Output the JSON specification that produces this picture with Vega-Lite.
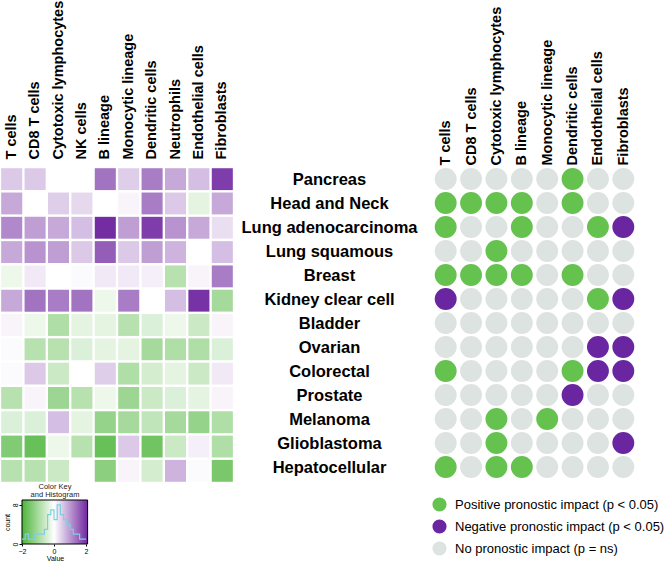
{
  "$schema": "https://vega.github.io/schema/vega-lite/v6.json",
  "padding": {"left": 0, "top": 0, "right": 0, "bottom": 0},
  "background": "white",
  "config": {"view": {"stroke": null}, "font": "Liberation Sans"},
  "datasets": {
    "heat": [
      {"t":"Pancreas","c":"T cells","v":0.5},{"t":"Pancreas","c":"CD8 T cells","v":0.5},{"t":"Pancreas","c":"Cytotoxic lymphocytes","v":0},{"t":"Pancreas","c":"NK cells","v":0},{"t":"Pancreas","c":"B lineage","v":1.3},{"t":"Pancreas","c":"Monocytic lineage","v":0.45},{"t":"Pancreas","c":"Dendritic cells","v":1.2},{"t":"Pancreas","c":"Neutrophils","v":0.8},{"t":"Pancreas","c":"Endothelial cells","v":0.6},{"t":"Pancreas","c":"Fibroblasts","v":1.8},
      {"t":"Head and Neck","c":"T cells","v":0.8},{"t":"Head and Neck","c":"CD8 T cells","v":0},{"t":"Head and Neck","c":"Cytotoxic lymphocytes","v":0.45},{"t":"Head and Neck","c":"NK cells","v":0.35},{"t":"Head and Neck","c":"B lineage","v":0},{"t":"Head and Neck","c":"Monocytic lineage","v":0.1},{"t":"Head and Neck","c":"Dendritic cells","v":1.2},{"t":"Head and Neck","c":"Neutrophils","v":0.5},{"t":"Head and Neck","c":"Endothelial cells","v":-0.3},{"t":"Head and Neck","c":"Fibroblasts","v":0.8},
      {"t":"Lung adenocarcinoma","c":"T cells","v":1.1},{"t":"Lung adenocarcinoma","c":"CD8 T cells","v":0.9},{"t":"Lung adenocarcinoma","c":"Cytotoxic lymphocytes","v":0.8},{"t":"Lung adenocarcinoma","c":"NK cells","v":0.6},{"t":"Lung adenocarcinoma","c":"B lineage","v":1.95},{"t":"Lung adenocarcinoma","c":"Monocytic lineage","v":0.9},{"t":"Lung adenocarcinoma","c":"Dendritic cells","v":1.8},{"t":"Lung adenocarcinoma","c":"Neutrophils","v":1.0},{"t":"Lung adenocarcinoma","c":"Endothelial cells","v":0.8},{"t":"Lung adenocarcinoma","c":"Fibroblasts","v":0.3},
      {"t":"Lung squamous","c":"T cells","v":0.8},{"t":"Lung squamous","c":"CD8 T cells","v":1.0},{"t":"Lung squamous","c":"Cytotoxic lymphocytes","v":0.9},{"t":"Lung squamous","c":"NK cells","v":0.5},{"t":"Lung squamous","c":"B lineage","v":1.5},{"t":"Lung squamous","c":"Monocytic lineage","v":0.5},{"t":"Lung squamous","c":"Dendritic cells","v":0.9},{"t":"Lung squamous","c":"Neutrophils","v":0.7},{"t":"Lung squamous","c":"Endothelial cells","v":0},{"t":"Lung squamous","c":"Fibroblasts","v":0.6},
      {"t":"Breast","c":"T cells","v":-0.2},{"t":"Breast","c":"CD8 T cells","v":0.2},{"t":"Breast","c":"Cytotoxic lymphocytes","v":0},{"t":"Breast","c":"NK cells","v":0.05},{"t":"Breast","c":"B lineage","v":0.2},{"t":"Breast","c":"Monocytic lineage","v":0.2},{"t":"Breast","c":"Dendritic cells","v":0.15},{"t":"Breast","c":"Neutrophils","v":-0.8},{"t":"Breast","c":"Endothelial cells","v":0.1},{"t":"Breast","c":"Fibroblasts","v":1.2},
      {"t":"Kidney clear cell","c":"T cells","v":0.8},{"t":"Kidney clear cell","c":"CD8 T cells","v":1.3},{"t":"Kidney clear cell","c":"Cytotoxic lymphocytes","v":1.2},{"t":"Kidney clear cell","c":"NK cells","v":1.3},{"t":"Kidney clear cell","c":"B lineage","v":-0.2},{"t":"Kidney clear cell","c":"Monocytic lineage","v":1.2},{"t":"Kidney clear cell","c":"Dendritic cells","v":0},{"t":"Kidney clear cell","c":"Neutrophils","v":0.6},{"t":"Kidney clear cell","c":"Endothelial cells","v":1.9},{"t":"Kidney clear cell","c":"Fibroblasts","v":-1.0},
      {"t":"Bladder","c":"T cells","v":0.1},{"t":"Bladder","c":"CD8 T cells","v":-0.2},{"t":"Bladder","c":"Cytotoxic lymphocytes","v":-0.9},{"t":"Bladder","c":"NK cells","v":-0.3},{"t":"Bladder","c":"B lineage","v":-0.3},{"t":"Bladder","c":"Monocytic lineage","v":-0.8},{"t":"Bladder","c":"Dendritic cells","v":-0.4},{"t":"Bladder","c":"Neutrophils","v":-0.2},{"t":"Bladder","c":"Endothelial cells","v":-0.6},{"t":"Bladder","c":"Fibroblasts","v":0.1},
      {"t":"Ovarian","c":"T cells","v":0.05},{"t":"Ovarian","c":"CD8 T cells","v":-0.8},{"t":"Ovarian","c":"Cytotoxic lymphocytes","v":-0.8},{"t":"Ovarian","c":"NK cells","v":-0.4},{"t":"Ovarian","c":"B lineage","v":-0.3},{"t":"Ovarian","c":"Monocytic lineage","v":-0.3},{"t":"Ovarian","c":"Dendritic cells","v":-1.0},{"t":"Ovarian","c":"Neutrophils","v":-0.9},{"t":"Ovarian","c":"Endothelial cells","v":-0.9},{"t":"Ovarian","c":"Fibroblasts","v":-0.4},
      {"t":"Colorectal","c":"T cells","v":0.05},{"t":"Colorectal","c":"CD8 T cells","v":0.5},{"t":"Colorectal","c":"Cytotoxic lymphocytes","v":-0.6},{"t":"Colorectal","c":"NK cells","v":0},{"t":"Colorectal","c":"B lineage","v":0.45},{"t":"Colorectal","c":"Monocytic lineage","v":-0.9},{"t":"Colorectal","c":"Dendritic cells","v":-0.5},{"t":"Colorectal","c":"Neutrophils","v":-0.3},{"t":"Colorectal","c":"Endothelial cells","v":-0.6},{"t":"Colorectal","c":"Fibroblasts","v":0.2},
      {"t":"Prostate","c":"T cells","v":-0.8},{"t":"Prostate","c":"CD8 T cells","v":0.1},{"t":"Prostate","c":"Cytotoxic lymphocytes","v":-1.1},{"t":"Prostate","c":"NK cells","v":-0.8},{"t":"Prostate","c":"B lineage","v":-0.2},{"t":"Prostate","c":"Monocytic lineage","v":-1.1},{"t":"Prostate","c":"Dendritic cells","v":-0.6},{"t":"Prostate","c":"Neutrophils","v":-0.4},{"t":"Prostate","c":"Endothelial cells","v":-0.3},{"t":"Prostate","c":"Fibroblasts","v":0.1},
      {"t":"Melanoma","c":"T cells","v":-0.4},{"t":"Melanoma","c":"CD8 T cells","v":-0.4},{"t":"Melanoma","c":"Cytotoxic lymphocytes","v":0.6},{"t":"Melanoma","c":"NK cells","v":-0.3},{"t":"Melanoma","c":"B lineage","v":-1.2},{"t":"Melanoma","c":"Monocytic lineage","v":-1.0},{"t":"Melanoma","c":"Dendritic cells","v":-0.7},{"t":"Melanoma","c":"Neutrophils","v":-1.0},{"t":"Melanoma","c":"Endothelial cells","v":-1.2},{"t":"Melanoma","c":"Fibroblasts","v":-0.9},
      {"t":"Glioblastoma","c":"T cells","v":-1.4},{"t":"Glioblastoma","c":"CD8 T cells","v":-1.7},{"t":"Glioblastoma","c":"Cytotoxic lymphocytes","v":-0.2},{"t":"Glioblastoma","c":"NK cells","v":-0.8},{"t":"Glioblastoma","c":"B lineage","v":-1.7},{"t":"Glioblastoma","c":"Monocytic lineage","v":0.5},{"t":"Glioblastoma","c":"Dendritic cells","v":-1.6},{"t":"Glioblastoma","c":"Neutrophils","v":-0.6},{"t":"Glioblastoma","c":"Endothelial cells","v":0.15},{"t":"Glioblastoma","c":"Fibroblasts","v":-0.9},
      {"t":"Hepatocellular","c":"T cells","v":-0.8},{"t":"Hepatocellular","c":"CD8 T cells","v":-0.8},{"t":"Hepatocellular","c":"Cytotoxic lymphocytes","v":-0.6},{"t":"Hepatocellular","c":"NK cells","v":0},{"t":"Hepatocellular","c":"B lineage","v":-1.3},{"t":"Hepatocellular","c":"Monocytic lineage","v":0.1},{"t":"Hepatocellular","c":"Dendritic cells","v":-0.5},{"t":"Hepatocellular","c":"Neutrophils","v":0.7},{"t":"Hepatocellular","c":"Endothelial cells","v":0.05},{"t":"Hepatocellular","c":"Fibroblasts","v":-1.5}
    ],
    "dots": [
      {"t":"Pancreas","c":"T cells","s":"ns"},{"t":"Pancreas","c":"CD8 T cells","s":"ns"},{"t":"Pancreas","c":"Cytotoxic lymphocytes","s":"ns"},{"t":"Pancreas","c":"B lineage","s":"ns"},{"t":"Pancreas","c":"Monocytic lineage","s":"ns"},{"t":"Pancreas","c":"Dendritic cells","s":"P"},{"t":"Pancreas","c":"Endothelial cells","s":"ns"},{"t":"Pancreas","c":"Fibroblasts","s":"ns"},
      {"t":"Head and Neck","c":"T cells","s":"P"},{"t":"Head and Neck","c":"CD8 T cells","s":"P"},{"t":"Head and Neck","c":"Cytotoxic lymphocytes","s":"P"},{"t":"Head and Neck","c":"B lineage","s":"P"},{"t":"Head and Neck","c":"Monocytic lineage","s":"ns"},{"t":"Head and Neck","c":"Dendritic cells","s":"P"},{"t":"Head and Neck","c":"Endothelial cells","s":"ns"},{"t":"Head and Neck","c":"Fibroblasts","s":"ns"},
      {"t":"Lung adenocarcinoma","c":"T cells","s":"P"},{"t":"Lung adenocarcinoma","c":"CD8 T cells","s":"ns"},{"t":"Lung adenocarcinoma","c":"Cytotoxic lymphocytes","s":"ns"},{"t":"Lung adenocarcinoma","c":"B lineage","s":"P"},{"t":"Lung adenocarcinoma","c":"Monocytic lineage","s":"ns"},{"t":"Lung adenocarcinoma","c":"Dendritic cells","s":"ns"},{"t":"Lung adenocarcinoma","c":"Endothelial cells","s":"P"},{"t":"Lung adenocarcinoma","c":"Fibroblasts","s":"N"},
      {"t":"Lung squamous","c":"T cells","s":"ns"},{"t":"Lung squamous","c":"CD8 T cells","s":"ns"},{"t":"Lung squamous","c":"Cytotoxic lymphocytes","s":"P"},{"t":"Lung squamous","c":"B lineage","s":"ns"},{"t":"Lung squamous","c":"Monocytic lineage","s":"ns"},{"t":"Lung squamous","c":"Dendritic cells","s":"ns"},{"t":"Lung squamous","c":"Endothelial cells","s":"ns"},{"t":"Lung squamous","c":"Fibroblasts","s":"ns"},
      {"t":"Breast","c":"T cells","s":"P"},{"t":"Breast","c":"CD8 T cells","s":"P"},{"t":"Breast","c":"Cytotoxic lymphocytes","s":"P"},{"t":"Breast","c":"B lineage","s":"P"},{"t":"Breast","c":"Monocytic lineage","s":"ns"},{"t":"Breast","c":"Dendritic cells","s":"P"},{"t":"Breast","c":"Endothelial cells","s":"ns"},{"t":"Breast","c":"Fibroblasts","s":"ns"},
      {"t":"Kidney clear cell","c":"T cells","s":"N"},{"t":"Kidney clear cell","c":"CD8 T cells","s":"ns"},{"t":"Kidney clear cell","c":"Cytotoxic lymphocytes","s":"ns"},{"t":"Kidney clear cell","c":"B lineage","s":"ns"},{"t":"Kidney clear cell","c":"Monocytic lineage","s":"ns"},{"t":"Kidney clear cell","c":"Dendritic cells","s":"ns"},{"t":"Kidney clear cell","c":"Endothelial cells","s":"P"},{"t":"Kidney clear cell","c":"Fibroblasts","s":"N"},
      {"t":"Bladder","c":"T cells","s":"ns"},{"t":"Bladder","c":"CD8 T cells","s":"ns"},{"t":"Bladder","c":"Cytotoxic lymphocytes","s":"ns"},{"t":"Bladder","c":"B lineage","s":"ns"},{"t":"Bladder","c":"Monocytic lineage","s":"ns"},{"t":"Bladder","c":"Dendritic cells","s":"ns"},{"t":"Bladder","c":"Endothelial cells","s":"ns"},{"t":"Bladder","c":"Fibroblasts","s":"ns"},
      {"t":"Ovarian","c":"T cells","s":"ns"},{"t":"Ovarian","c":"CD8 T cells","s":"ns"},{"t":"Ovarian","c":"Cytotoxic lymphocytes","s":"ns"},{"t":"Ovarian","c":"B lineage","s":"ns"},{"t":"Ovarian","c":"Monocytic lineage","s":"ns"},{"t":"Ovarian","c":"Dendritic cells","s":"ns"},{"t":"Ovarian","c":"Endothelial cells","s":"N"},{"t":"Ovarian","c":"Fibroblasts","s":"N"},
      {"t":"Colorectal","c":"T cells","s":"P"},{"t":"Colorectal","c":"CD8 T cells","s":"ns"},{"t":"Colorectal","c":"Cytotoxic lymphocytes","s":"ns"},{"t":"Colorectal","c":"B lineage","s":"ns"},{"t":"Colorectal","c":"Monocytic lineage","s":"ns"},{"t":"Colorectal","c":"Dendritic cells","s":"P"},{"t":"Colorectal","c":"Endothelial cells","s":"N"},{"t":"Colorectal","c":"Fibroblasts","s":"N"},
      {"t":"Prostate","c":"T cells","s":"ns"},{"t":"Prostate","c":"CD8 T cells","s":"ns"},{"t":"Prostate","c":"Cytotoxic lymphocytes","s":"ns"},{"t":"Prostate","c":"B lineage","s":"ns"},{"t":"Prostate","c":"Monocytic lineage","s":"ns"},{"t":"Prostate","c":"Dendritic cells","s":"N"},{"t":"Prostate","c":"Endothelial cells","s":"ns"},{"t":"Prostate","c":"Fibroblasts","s":"ns"},
      {"t":"Melanoma","c":"T cells","s":"ns"},{"t":"Melanoma","c":"CD8 T cells","s":"ns"},{"t":"Melanoma","c":"Cytotoxic lymphocytes","s":"P"},{"t":"Melanoma","c":"B lineage","s":"ns"},{"t":"Melanoma","c":"Monocytic lineage","s":"P"},{"t":"Melanoma","c":"Dendritic cells","s":"ns"},{"t":"Melanoma","c":"Endothelial cells","s":"ns"},{"t":"Melanoma","c":"Fibroblasts","s":"ns"},
      {"t":"Glioblastoma","c":"T cells","s":"ns"},{"t":"Glioblastoma","c":"CD8 T cells","s":"ns"},{"t":"Glioblastoma","c":"Cytotoxic lymphocytes","s":"P"},{"t":"Glioblastoma","c":"B lineage","s":"ns"},{"t":"Glioblastoma","c":"Monocytic lineage","s":"ns"},{"t":"Glioblastoma","c":"Dendritic cells","s":"ns"},{"t":"Glioblastoma","c":"Endothelial cells","s":"ns"},{"t":"Glioblastoma","c":"Fibroblasts","s":"N"},
      {"t":"Hepatocellular","c":"T cells","s":"P"},{"t":"Hepatocellular","c":"CD8 T cells","s":"ns"},{"t":"Hepatocellular","c":"Cytotoxic lymphocytes","s":"P"},{"t":"Hepatocellular","c":"B lineage","s":"P"},{"t":"Hepatocellular","c":"Monocytic lineage","s":"ns"},{"t":"Hepatocellular","c":"Dendritic cells","s":"ns"},{"t":"Hepatocellular","c":"Endothelial cells","s":"ns"},{"t":"Hepatocellular","c":"Fibroblasts","s":"ns"}
    ],
    "keyband": [{"lo": -2, "hi": 2.1}],
    "hist": [
      {"x":-2.0,"n":1},{"x":-1.8,"n":2},{"x":-1.6,"n":1},{"x":-1.4,"n":1},{"x":-1.2,"n":2},{"x":-1.0,"n":2},{"x":-0.8,"n":2},{"x":-0.6,"n":3},{"x":-0.4,"n":6},{"x":-0.2,"n":7},{"x":0.0,"n":5},{"x":0.2,"n":8},{"x":0.4,"n":6},{"x":0.6,"n":5},{"x":0.8,"n":4},{"x":1.0,"n":3},{"x":1.2,"n":2},{"x":1.4,"n":2},{"x":1.6,"n":1},{"x":1.8,"n":1},{"x":2.0,"n":1}
    ]
  },
  "concat": [
    {
      "concat": [
        {
          "width": 234,
          "height": 316,
          "data": {"name": "heat"},
          "mark": {"type": "rect"},
          "encoding": {
            "x": {"field": "c", "type": "nominal",
              "sort": ["T cells","CD8 T cells","Cytotoxic lymphocytes","NK cells","B lineage","Monocytic lineage","Dendritic cells","Neutrophils","Endothelial cells","Fibroblasts"],
              "scale": {"paddingInner": 0.1, "paddingOuter": 0.05},
              "axis": {"orient": "top", "title": null, "labelAngle": -90, "labelAlign": "left", "labelBaseline": "middle", "ticks": false, "domain": false, "labelPadding": 8, "labelFontSize": 14.5, "labelFontWeight": "bold", "labelColor": "#000", "labelFont": "Liberation Sans"}},
            "y": {"field": "t", "type": "nominal",
              "sort": ["Pancreas","Head and Neck","Lung adenocarcinoma","Lung squamous","Breast","Kidney clear cell","Bladder","Ovarian","Colorectal","Prostate","Melanoma","Glioblastoma","Hepatocellular"],
              "scale": {"paddingInner": 0.1, "paddingOuter": 0.05},
              "axis": null},
            "color": {"field": "v", "type": "quantitative",
              "scale": {"domain": [-2, 0, 2], "range": ["#4db53a", "#ffffff", "#7027a0"], "interpolate": "rgb"},
              "legend": null}
          }
        },
        {
          "width": 88,
          "height": 44,
          "title": {"text": ["Color Key", "and Histogram"], "fontSize": 7.5, "fontWeight": "normal", "font": "Liberation Sans", "color": "#222", "offset": 1, "lineHeight": 8, "dx": 11},
          "layer": [
            {
              "data": {"name": "keyband"},
              "mark": {"type": "rect", "stroke": "#000", "strokeWidth": 1, "color": {"gradient": "linear", "x1": 0, "y1": 0, "x2": 1, "y2": 0, "stops": [{"offset": 0, "color": "#4db53a"}, {"offset": 0.49, "color": "#ffffff"}, {"offset": 1, "color": "#7027a0"}]}},
              "encoding": {
                "x": {"field": "lo", "type": "quantitative", "scale": {"domain": [-3.375, 2.125], "nice": false, "zero": false},
                  "axis": {"values": [-2, -1, 0, 1, 2], "title": "Value", "titleX": 55, "titleFontSize": 7, "titleFontWeight": "normal", "titlePadding": 0, "labelFontSize": 7, "tickSize": 2, "labelPadding": 1, "grid": false, "domain": false, "tickColor": "#000", "labelColor": "#000", "titleColor": "#000"}},
                "x2": {"field": "hi"},
                "y": {"datum": 0, "type": "quantitative", "scale": {"domain": [0, 9], "nice": false},
                  "axis": {"offset": -22, "values": [0, 2, 4, 6, 8], "title": "count", "titleFontSize": 7, "titleFontWeight": "normal", "titlePadding": 1, "labelFontSize": 7, "labelAngle": -90, "labelAlign": "center", "labelBaseline": "bottom", "tickSize": 3, "labelPadding": 1, "grid": false, "domain": false, "tickColor": "#000", "labelColor": "#000", "titleColor": "#000"}},
                "y2": {"datum": 9}
              }
            },
            {
              "data": {"name": "hist"},
              "mark": {"type": "line", "interpolate": "step-after", "color": "#7fcfe0", "strokeWidth": 1.2},
              "encoding": {
                "x": {"field": "x", "type": "quantitative"},
                "y": {"field": "n", "type": "quantitative"}
              }
            }
          ]
        }
      ],
      "columns": 1,
      "align": "none",
      "spacing": 0
    },
    {
      "width": 203,
      "height": 312,
      "data": {"name": "dots"},
      "mark": {"type": "point", "filled": true, "shape": "circle", "size": 480, "opacity": 1},
      "encoding": {
        "x": {"field": "c", "type": "nominal",
          "sort": ["T cells","CD8 T cells","Cytotoxic lymphocytes","B lineage","Monocytic lineage","Dendritic cells","Endothelial cells","Fibroblasts"],
          "scale": {"paddingInner": 0, "paddingOuter": 0},
          "axis": {"orient": "top", "title": null, "labelAngle": -90, "labelAlign": "left", "labelBaseline": "middle", "ticks": false, "domain": false, "labelPadding": 2, "labelFontSize": 14.5, "labelFontWeight": "bold", "labelColor": "#000", "labelFont": "Liberation Sans"}},
        "y": {"field": "t", "type": "nominal",
          "sort": ["Pancreas","Head and Neck","Lung adenocarcinoma","Lung squamous","Breast","Kidney clear cell","Bladder","Ovarian","Colorectal","Prostate","Melanoma","Glioblastoma","Hepatocellular"],
          "scale": {"paddingInner": 0, "paddingOuter": 0.186},
          "axis": {"orient": "left", "title": null, "ticks": false, "domain": false, "labelAlign": "center", "labelPadding": 104, "labelFontSize": 16.5, "labelFontWeight": "bold", "labelColor": "#000", "labelFont": "Liberation Sans"}},
        "color": {"field": "s", "type": "nominal",
          "scale": {"domain": ["P", "N", "ns"], "range": ["#66c24f", "#6a25a0", "#dde3e1"]},
          "legend": {"orient": "none", "legendX": -1, "legendY": 330, "title": null, "symbolType": "circle", "symbolSize": 200, "symbolOpacity": 1, "symbolStrokeWidth": 0, "labelFontSize": 13, "labelFont": "Liberation Sans", "labelColor": "#000", "labelOffset": 8, "rowPadding": 7, "labelLimit": 300,
            "labelExpr": "datum.value == 'P' ? 'Positive pronostic impact (p < 0.05)' : datum.value == 'N' ? 'Negative pronostic impact (p < 0.05)' : 'No pronostic impact (p = ns)'"}}
      }
    }
  ],
  "columns": 2,
  "align": "none",
  "spacing": 6
}
